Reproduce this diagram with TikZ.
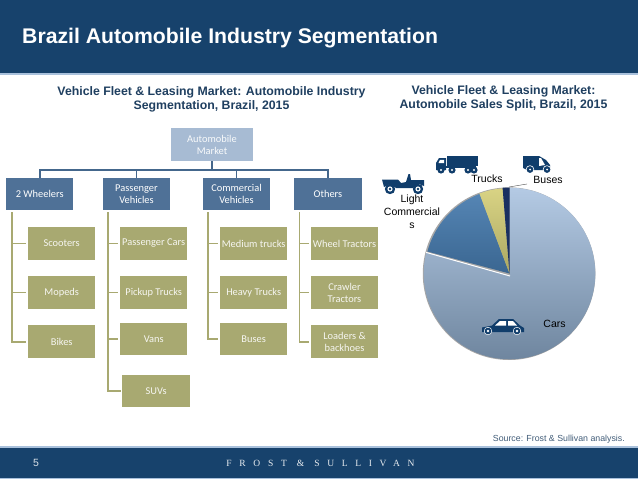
\documentclass[tikz,border=0pt]{standalone}
\usepackage{fontspec}
\setmainfont{Liberation Sans}
\newfontfamily\carlito{Carlito}
\newfontfamily\logofont[LetterSpace=81]{Liberation Serif}
\definecolor{navy}{HTML}{17426C}
\definecolor{band}{HTML}{A9C1DC}
\definecolor{lvlone}{HTML}{4F7197}
\definecolor{lvltop}{HTML}{A7BBD3}
\definecolor{kid}{HTML}{A8A971}
\definecolor{conn}{HTML}{44678C}
\definecolor{head}{HTML}{1F3F60}
\definecolor{icon}{HTML}{103D6B}
\definecolor{carstop}{HTML}{B4CAE4}
\definecolor{carsbot}{HTML}{6F869F}
\definecolor{lcvtop}{HTML}{5585B4}
\definecolor{lcvbot}{HTML}{3A6691}
\definecolor{trktop}{HTML}{D9D384}
\definecolor{trkbot}{HTML}{ABA862}
\definecolor{busfill}{HTML}{1A3060}
\tikzset{
 box/.style={minimum width=67.5pt,minimum height=32.5pt,inner sep=0pt,align=center,text=white,
   font=\carlito\fontsize{10.4}{12}\selectfont},
 topbox/.style={box,fill=lvltop,minimum width=82pt,text=white!92!lvltop},
 onebox/.style={box,fill=lvlone},
 kidbox/.style={box,fill=kid,text=white!90!kid},
 trunk/.style={draw=conn,line width=1.7pt},
 branch/.style={draw=kid,line width=1.7pt},
 pielabel/.style={inner sep=0pt,align=center,text=black,font=\fontsize{10.5}{13}\selectfont},
 subhead/.style={inner sep=0pt,align=center,text=head,font=\bfseries\fontsize{12.3}{13.6}\selectfont},
}
\begin{document}
\begin{tikzpicture}[x=1pt,y=-1pt]
\useasboundingbox (0,0) rectangle (638,479);
% header and footer
\fill[navy] (0,0) rectangle (638,73);
\fill[band] (0,73) rectangle (638,74.5);
\fill[band] (0,446) rectangle (638,447.5);
\fill[navy] (0,447.5) rectangle (638,477.5);
\fill[band] (0,477.5) rectangle (638,479);
\node[anchor=west,inner sep=0pt,text=white,font=\bfseries\fontsize{21.2}{24}\selectfont] (title) at (22,38.5) {Brazil Automobile Industry Segmentation};
\node[subhead] (sub1) at (211.5,99.5) {Vehicle Fleet \& Leasing Market: Automobile Industry\\Segmentation, Brazil, 2015};
\node[subhead] (sub2) at (503.5,98.5) {Vehicle Fleet \& Leasing Market:\\Automobile Sales Split, Brazil, 2015};
\node[inner sep=0pt,anchor=east,text=head!85!white,font=\fontsize{8.8}{10}\selectfont] (src) at (625,439) {Source: Frost \& Sullivan analysis.};
\node[inner sep=0pt,text=white!85!navy,font=\fontsize{10.5}{12}\selectfont] (page) at (36,463) {5};
\node[inner sep=0pt,text=white!90!navy,font=\logofont\fontsize{9.5}{10}\selectfont] (logo) at (320.5,463) {FROST \& SULLIVAN};
% org chart
\node[topbox] (auto) at (212,144.7) {Automobile\\Market};
\node[onebox] (tw) at (39.7,194) {2 Wheelers};
\node[onebox] (pv) at (136.5,194) {Passenger\\Vehicles};
\node[onebox] (cv) at (236.5,194) {Commercial\\Vehicles};
\node[onebox] (ot) at (328,194) {Others};
\node[kidbox] (scooters) at (61.7,243.5) {Scooters};
\node[kidbox] (mopeds) at (61.7,292.5) {Mopeds};
\node[kidbox] (bikes) at (61.7,341.7) {Bikes};
\node[kidbox] (pcars) at (153.7,243.5) {Passenger Cars};
\node[kidbox] (pickup) at (153.7,292.5) {Pickup Trucks};
\node[kidbox] (vans) at (153.7,338.8) {Vans};
\node[kidbox] (suvs) at (156.2,391) {SUVs};
\node[kidbox] (medium) at (253.7,243.5) {Medium trucks};
\node[kidbox] (heavy) at (253.7,292.5) {Heavy Trucks};
\node[kidbox] (cbuses) at (253.7,338.8) {Buses};
\node[kidbox] (wheel) at (344.5,243.5) {Wheel Tractors};
\node[kidbox] (crawler) at (344.5,292.5) {Crawler\\Tractors};
\node[kidbox] (loaders) at (344.5,341.7) {Loaders \&\\backhoes};
\foreach \t in {tw,pv,cv,ot}
  \draw[trunk] (auto.south) -- ++(0,9) -| (\t.north);
\foreach \p/\k in {tw/scooters,tw/mopeds,tw/bikes}
  \draw[branch] ([xshift=6pt,yshift=-2pt]\p.south west) |- ([xshift=-2pt]\k.west);
\foreach \p/\k in {pv/pcars,pv/pickup,pv/vans,pv/suvs,cv/medium,cv/heavy,cv/cbuses,ot/wheel,ot/crawler,ot/loaders}
  \draw[branch] ([xshift=5.5pt,yshift=-2pt]\p.south west) |- ([xshift=-1.5pt]\k.west);
% pie
\begin{scope}[shift={(509.5,273.5)},x=1pt,y=1pt]
\fill[gray!70] (-0.4,-0.2) circle[radius=86.3];
\shade[top color=carstop,bottom color=carsbot] (0.5,-2) -- (90:85.8) arc[start angle=90,end angle=-194,radius=85.8] -- cycle;
\draw[white,line width=1pt] (0.5,-2.5) -- (165.8:86);
\shade[top color=lcvtop,bottom color=lcvbot] (0,0) -- (165:85) arc[start angle=165,end angle=110.6,radius=85] -- cycle;
\shade[top color=trktop,bottom color=trkbot] (0,0) -- (110.6:85.5) arc[start angle=110.6,end angle=94.6,radius=85.5] -- cycle;
\fill[busfill] (0,0) -- (94.6:86) arc[start angle=94.6,end angle=90,radius=86] -- cycle;
\end{scope}
\coordinate (busrim) at (509,187);
\coordinate (busend) at (527,184);
\draw[black!75,line width=0.4pt] (busrim) -- (busend);
% pie labels
\node[pielabel] (ltrucks) at (487,179) {Trucks};
\node[pielabel] (lbuses) at (548,180) {Buses};
\node[pielabel] (llcv) at (412,212) {Light\\Commercial\\s};
\node[pielabel] (lcars) at (554.5,324) {Cars};
% truck icon
\fill[icon] (447,156) rectangle (478,166);
\fill[icon] (446,166) rectangle (476,168);
\fill[icon] (436,170) -- (436,163) -- (439,158) -- (446,158) -- (446,170) -- cycle;
\fill[white] (438.5,163) -- (440,159.8) -- (444,159.8) -- (444,163) -- cycle;
\foreach \cx in {441,452,468,474}{
  \fill[icon] (\cx,170) circle[radius=3.6];
  \fill[white] (\cx,170) circle[radius=1.2];}
% van icon
\fill[icon] (523,156) -- (539,156) -- (546,160) -- (550,165) -- (550,170) -- (527,170) -- (523,168) -- cycle;
\fill[white] (539,158) -- (541,158) -- (545,165) -- (539,166) -- cycle;
\foreach \cx in {530,547}{
  \fill[white] (\cx,169.5) circle[radius=4.2];
  \fill[icon] (\cx,169.5) circle[radius=3.4];
  \fill[white] (\cx,169.5) circle[radius=1];}
% jeep icon
\fill[icon] (382,179.5) -- (398,179.5) -- (401,183) -- (406,182) -- (408.5,174) -- (410,174) -- (411,180) -- (415,180) -- (424,180) -- (424,186) -- (419,184) -- (413,188) -- (396,188) -- (390,184) -- (384,187) -- cycle;
\foreach \cx in {390,418}{
  \fill[icon] (\cx,189) circle[radius=5.2];
  \fill[white] (\cx,189) circle[radius=2.6];
  \fill[icon] (\cx,189) circle[radius=1.3];}
% car icon
\fill[icon] (482,332) -- (482,327.5) -- (492,325.5) -- (499,319) -- (513,319) -- (520,325.5) -- (524,328) -- (524,332) -- cycle;
\fill[white] (495,325.5) -- (500,321) -- (506,321) -- (506,325.5) -- cycle;
\fill[white] (508,321) -- (513,321) -- (517,325.5) -- (508,325.5) -- cycle;
\foreach \cx in {488,517}{
  \fill[white] (\cx,331) circle[radius=4.1];
  \fill[icon] (\cx,331) circle[radius=3.4];
  \fill[white] (\cx,331) circle[radius=1.3];}
\end{tikzpicture}
\end{document}
